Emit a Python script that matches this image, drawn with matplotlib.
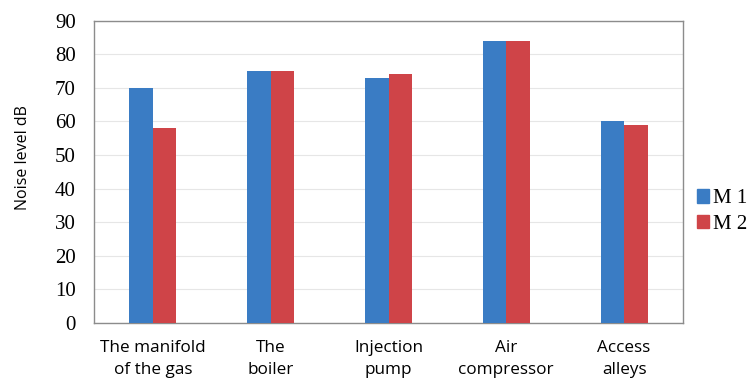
import matplotlib
matplotlib.use("Agg")
import matplotlib.pyplot as plt
import numpy as np
from matplotlib.patches import Patch

categories = ["The manifold\nof the gas", "The\nboiler", "Injection\npump", "Air\ncompressor", "Access\nalleys"]
m1 = [70, 75, 73, 84, 60]
m2 = [58, 75, 74, 84, 59]
series_names = ["M 1", "M 2"]
yticks = [0, 10, 20, 30, 40, 50, 60, 70, 80, 90]

blue = "#3a7cc4"
red = "#cf4448"

fig = plt.figure(figsize=(7.5, 3.81), dpi=100)
ax = fig.add_axes([0.1253, 0.1522, 0.7854, 0.7935])

x = np.arange(len(categories))
w = 0.2
ax.bar(x - w / 2, m1, width=w, color=blue, zorder=3)
ax.bar(x + w / 2, m2, width=w, color=red, zorder=3)

ax.set_xlim(-0.5, len(categories) - 0.5)
ax.set_ylim(0, 90)
ax.set_yticks(yticks)
ax.set_yticklabels([str(t) for t in yticks], fontfamily="Liberation Serif", fontsize=15)
ax.set_xticks(x)
ax.set_xticklabels(categories, fontfamily="Open Sans", fontsize=12.3, linespacing=1.5)
ax.tick_params(axis="both", length=0)
ax.tick_params(axis="x", pad=12)
ax.tick_params(axis="y", pad=13)

ax.yaxis.grid(True, color="#e6e6e6", linewidth=0.8, zorder=0)
for s in ax.spines.values():
    s.set_color("#8c8c8c")
    s.set_linewidth(1.0)

ax.set_ylabel("Noise level dB", fontfamily="Open Sans", fontsize=11.5)
ax.yaxis.set_label_coords(-0.107, 0.548)

handles = [Patch(color=blue), Patch(color=red)]
fig.legend(handles, series_names, loc="center left", bbox_to_anchor=(0.904, 0.445),
           frameon=False, prop={"family": "Liberation Serif", "size": 15},
           handlelength=0.6, handleheight=0.6, handletextpad=0.2, labelspacing=0.3)

fig.savefig("out.png", dpi=100, facecolor="white")
